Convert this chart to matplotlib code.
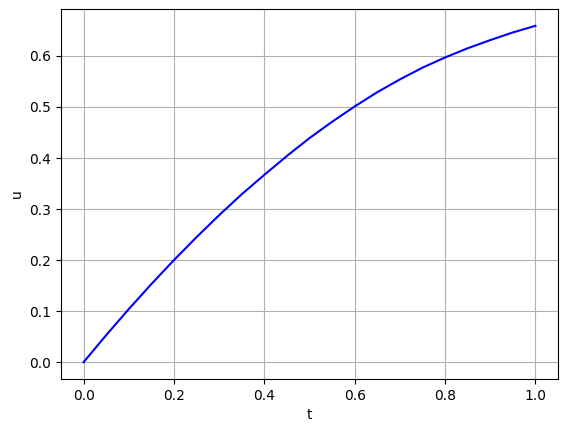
import numpy as np
import matplotlib
matplotlib.use('Agg')
import matplotlib.pyplot as plt

# values
t = [0.0, 0.05, 0.1, 0.15, 0.2, 0.25, 0.3, 0.35, 0.4, 0.45, 0.5,
     0.55, 0.6, 0.65, 0.7, 0.75, 0.8, 0.85, 0.9, 0.95, 1.0]
u = [0.0, 0.053, 0.104, 0.153, 0.200, 0.245, 0.288, 0.329, 0.367, 0.404, 0.439,
     0.471, 0.501, 0.529, 0.554, 0.577, 0.597, 0.615, 0.631, 0.646, 0.659]

fig = plt.figure(figsize=(5.67, 4.32), dpi=100)
ax = fig.add_axes([61/567, 1 - 379/432, (558 - 61)/567, (379 - 9)/432])

ax.plot(t, u, color='blue')
ax.set_xlabel('t')
ax.set_ylabel('u')
ax.grid(True)

fig.savefig('out.png', dpi=100)
plt.close(fig)
